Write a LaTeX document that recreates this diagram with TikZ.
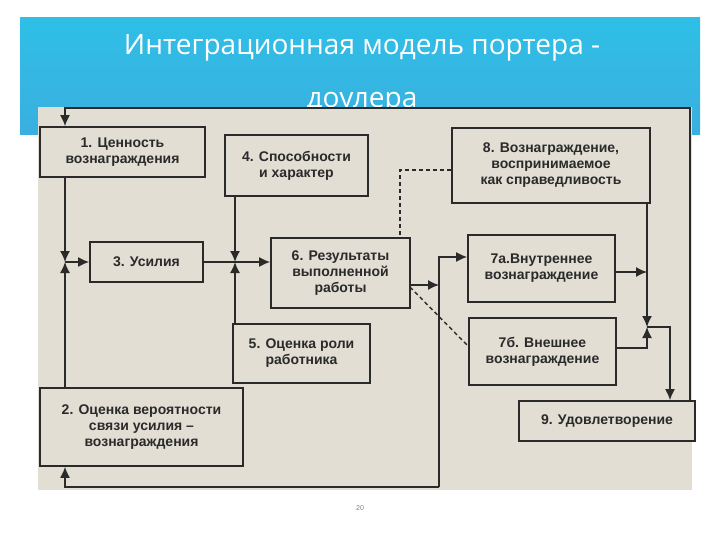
\documentclass[tikz,border=0pt]{standalone}
\usepackage{fontspec}
\setmainfont{Liberation Sans}
\newfontfamily\titlefont{Open Sans}
\usetikzlibrary{arrows.meta}
\definecolor{scan}{HTML}{E2DED4}
\definecolor{ink}{HTML}{2A2A2A}
\definecolor{band}{HTML}{3AAFE0}
\tikzset{
  bx/.style={draw=ink,line width=1.7pt,fill=scan,align=center,font=\fontsize{14}{16}\selectfont\bfseries,text=ink,inner sep=0pt},
  ln/.style={draw=ink,line width=1.5pt},
  ar/.style={ln,-{Latex[length=11pt,width=10pt]}},
  dsh/.style={draw=ink,line width=1.4pt,dash pattern=on 4pt off 3pt}
}
\begin{document}
\begin{tikzpicture}[x=1pt,y=-1pt]
\useasboundingbox (0,0) rectangle (720,540);
\fill[white] (0,0) rectangle (720,540);
\shade[top color=band!80!cyan,bottom color=band] (20,18) rectangle (700,135);
\node[text=white,font=\titlefont\fontsize{28}{30}\selectfont] (t1) at (362,48) {Интеграционная модель портера -};
\node[text=white,font=\titlefont\fontsize{28}{30}\selectfont] (t2) at (362,103) {доулера};
\fill[scan] (38,107) rectangle (692,490);
% boxes
\node[bx,minimum width=165pt,minimum height=50pt] (b1) at (122.5,152) {1. Ценность\\вознаграждения};
\node[bx,minimum width=143pt,minimum height=61pt] (b4) at (296.5,165.5) {4. Способности\\и характер};
\node[bx,minimum width=113pt,minimum height=40pt] (b3) at (146.5,262) {3. Усилия};
\node[bx,minimum width=139pt,minimum height=70pt] (b6) at (340.5,273) {6. Результаты\\выполненной\\работы};
\node[bx,minimum width=137pt,minimum height=59pt] (b5) at (301.5,353.5) {5. Оценка роли\\работника};
\node[bx,minimum width=203pt,minimum height=78pt] (b2) at (141.5,427) {2. Оценка вероятности\\связи усилия --\\вознаграждения};
\node[bx,minimum width=198pt,minimum height=75pt] (b8) at (551,165.5) {8. Вознаграждение,\\воспринимаемое\\как справедливость};
\node[bx,minimum width=147pt,minimum height=67pt] (b7a) at (541.5,268.5) {7а.Внутреннее\\вознаграждение};
\node[bx,minimum width=147pt,minimum height=67pt] (b7b) at (542.5,351.5) {7б. Внешнее\\вознаграждение};
\node[bx,minimum width=176pt,minimum height=40pt] (b9) at (607,421) {9. Удовлетворение};
% coordinates
\coordinate (j1) at (65,262);
\coordinate (j2) at (235,262);
\coordinate (j3) at (439,285);
\coordinate (j4) at (647,327);
\coordinate (tl) at (65,108);
\coordinate (tr) at (690,108);
\coordinate (bl) at (65,487);
\coordinate (br) at (439,487);
% top feedback loop
\draw[ar] (b9.north -| tr) -- (tr) -- (tl) -- (b1.north -| tl);
% left junction
\draw[ar] (b1.south -| j1) -- (j1);
\draw[ar] (b2.north -| j1) -- (j1);
\draw[ar] (j1) -- (b3.west);
% middle junction
\draw[ln] (b3.east) -- (j2);
\draw[ar] (b4.south -| j2) -- (j2);
\draw[ar] (b5.north -| j2) -- (j2);
\draw[ar] (j2) -- (b6.west |- j2);
% results to rewards
\draw[ar] (b6.east |- j3) -- (j3);
\draw[ar] (br) -- (439,257) -- (b7a.west |- 0,257);
\draw[ar] (br) -- (bl) -- (b2.south -| bl);
% dashed
\draw[dsh] (b8.west |- 0,170) -- (400,170) -- (400,238);
\draw[dsh] (410,287) -- (469,347);
% right junction
\draw[ar] (b7a.east |- 0,272) -- (647,272);
\draw[ar] (b8.south -| j4) -- (j4);
\draw[ar] (b7b.east |- 0,348) -- (647,348) -- (j4);
\draw[ar] (j4) -- (670,327) -- (b9.north -| 670,0);
\node[font=\fontsize{7}{8}\selectfont,text=gray] (pg) at (360,508) {20};
\end{tikzpicture}
\end{document}
